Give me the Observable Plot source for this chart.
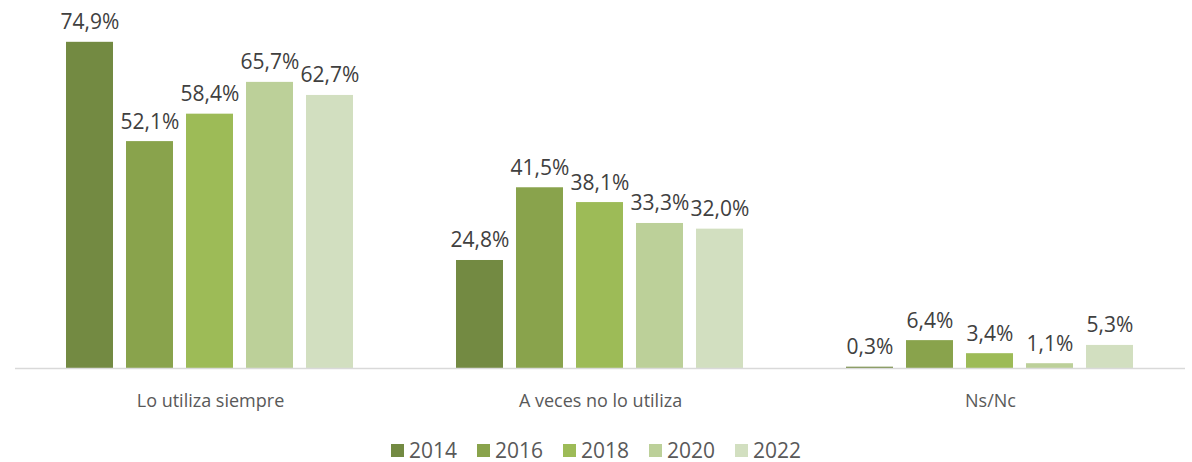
<!DOCTYPE html>
<html>
<head>
<meta charset="utf-8">
<script src="https://cdn.jsdelivr.net/npm/d3@7"></script>
<script src="https://cdn.jsdelivr.net/npm/@observablehq/plot@0.6"></script>
<style>
  body { margin: 0; background: #fff; font-family: "Open Sans", sans-serif; overflow: hidden; }
  #chart svg { display: block; }
  .legend { box-sizing: border-box; display: flex; justify-content: center; align-items: center; height: 47px; padding-top: 23px; padding-bottom: 0; gap: 20px; color: #595959; font-size: 21px; line-height: 24px; }
  .legend .item { display: flex; align-items: center; gap: 5px; }
  .legend .sw { width: 13px; height: 13px; display: inline-block; }
</style>
</head>
<body>
<div id="chart"></div>
<script>
const categories = ["Lo utiliza siempre", "A veces no lo utiliza", "Ns/Nc"];
const years = ["2014", "2016", "2018", "2020", "2022"];
const v2014 = [74.9, 24.8, 0.3];
const v2016 = [52.1, 41.5, 6.4];
const v2018 = [58.4, 38.1, 3.4];
const v2020 = [65.7, 33.3, 1.1];
const v2022 = [62.7, 32.0, 5.3];
const colors = ["#738a42", "#89a34c", "#9dbb57", "#bcd099", "#d2dfc0"];

const series = [v2014, v2016, v2018, v2020, v2022];
const data = [];
categories.forEach((c, i) => years.forEach((y, j) => data.push({cat: c, year: y, value: series[j][i]})));
const fmt = v => v.toFixed(1).replace(".", ",") + "%";

const chart = Plot.plot({
  width: 1192,
  height: 415,
  marginLeft: 14,
  marginRight: 6,
  marginTop: 0,
  marginBottom: 47,
  style: {fontFamily: "Open Sans, sans-serif", background: "#fff"},
  fx: {domain: categories, padding: 0, label: null},
  x: {domain: years, paddingInner: 0.21, paddingOuter: 0.85, axis: null},
  y: {domain: [0, 84.5], axis: null},
  color: {domain: years, range: colors},
  marks: [
    Plot.barY(data, {fx: "cat", x: "year", y: "value", fill: "year"}),
    Plot.ruleY([0], {stroke: "#d9d9d9", strokeWidth: 1.5}),
    Plot.text(data, {fx: "cat", x: "year", y: "value", text: d => fmt(d.value), lineAnchor: "bottom", dy: -13, fill: "#404040", fontSize: 21}),
    Plot.axisFx({anchor: "bottom", tickSize: 0, tickPadding: 26, fontSize: 18, color: "#595959", label: null})
  ]
});
document.getElementById("chart").appendChild(chart);

const legend = document.createElement("div");
legend.className = "legend";
years.forEach((y, i) => {
  const item = document.createElement("div");
  item.className = "item";
  const sw = document.createElement("span");
  sw.className = "sw";
  sw.style.background = colors[i];
  const t = document.createElement("span");
  t.textContent = y;
  item.appendChild(sw);
  item.appendChild(t);
  legend.appendChild(item);
});
document.body.appendChild(legend);
</script>
</body>
</html>
